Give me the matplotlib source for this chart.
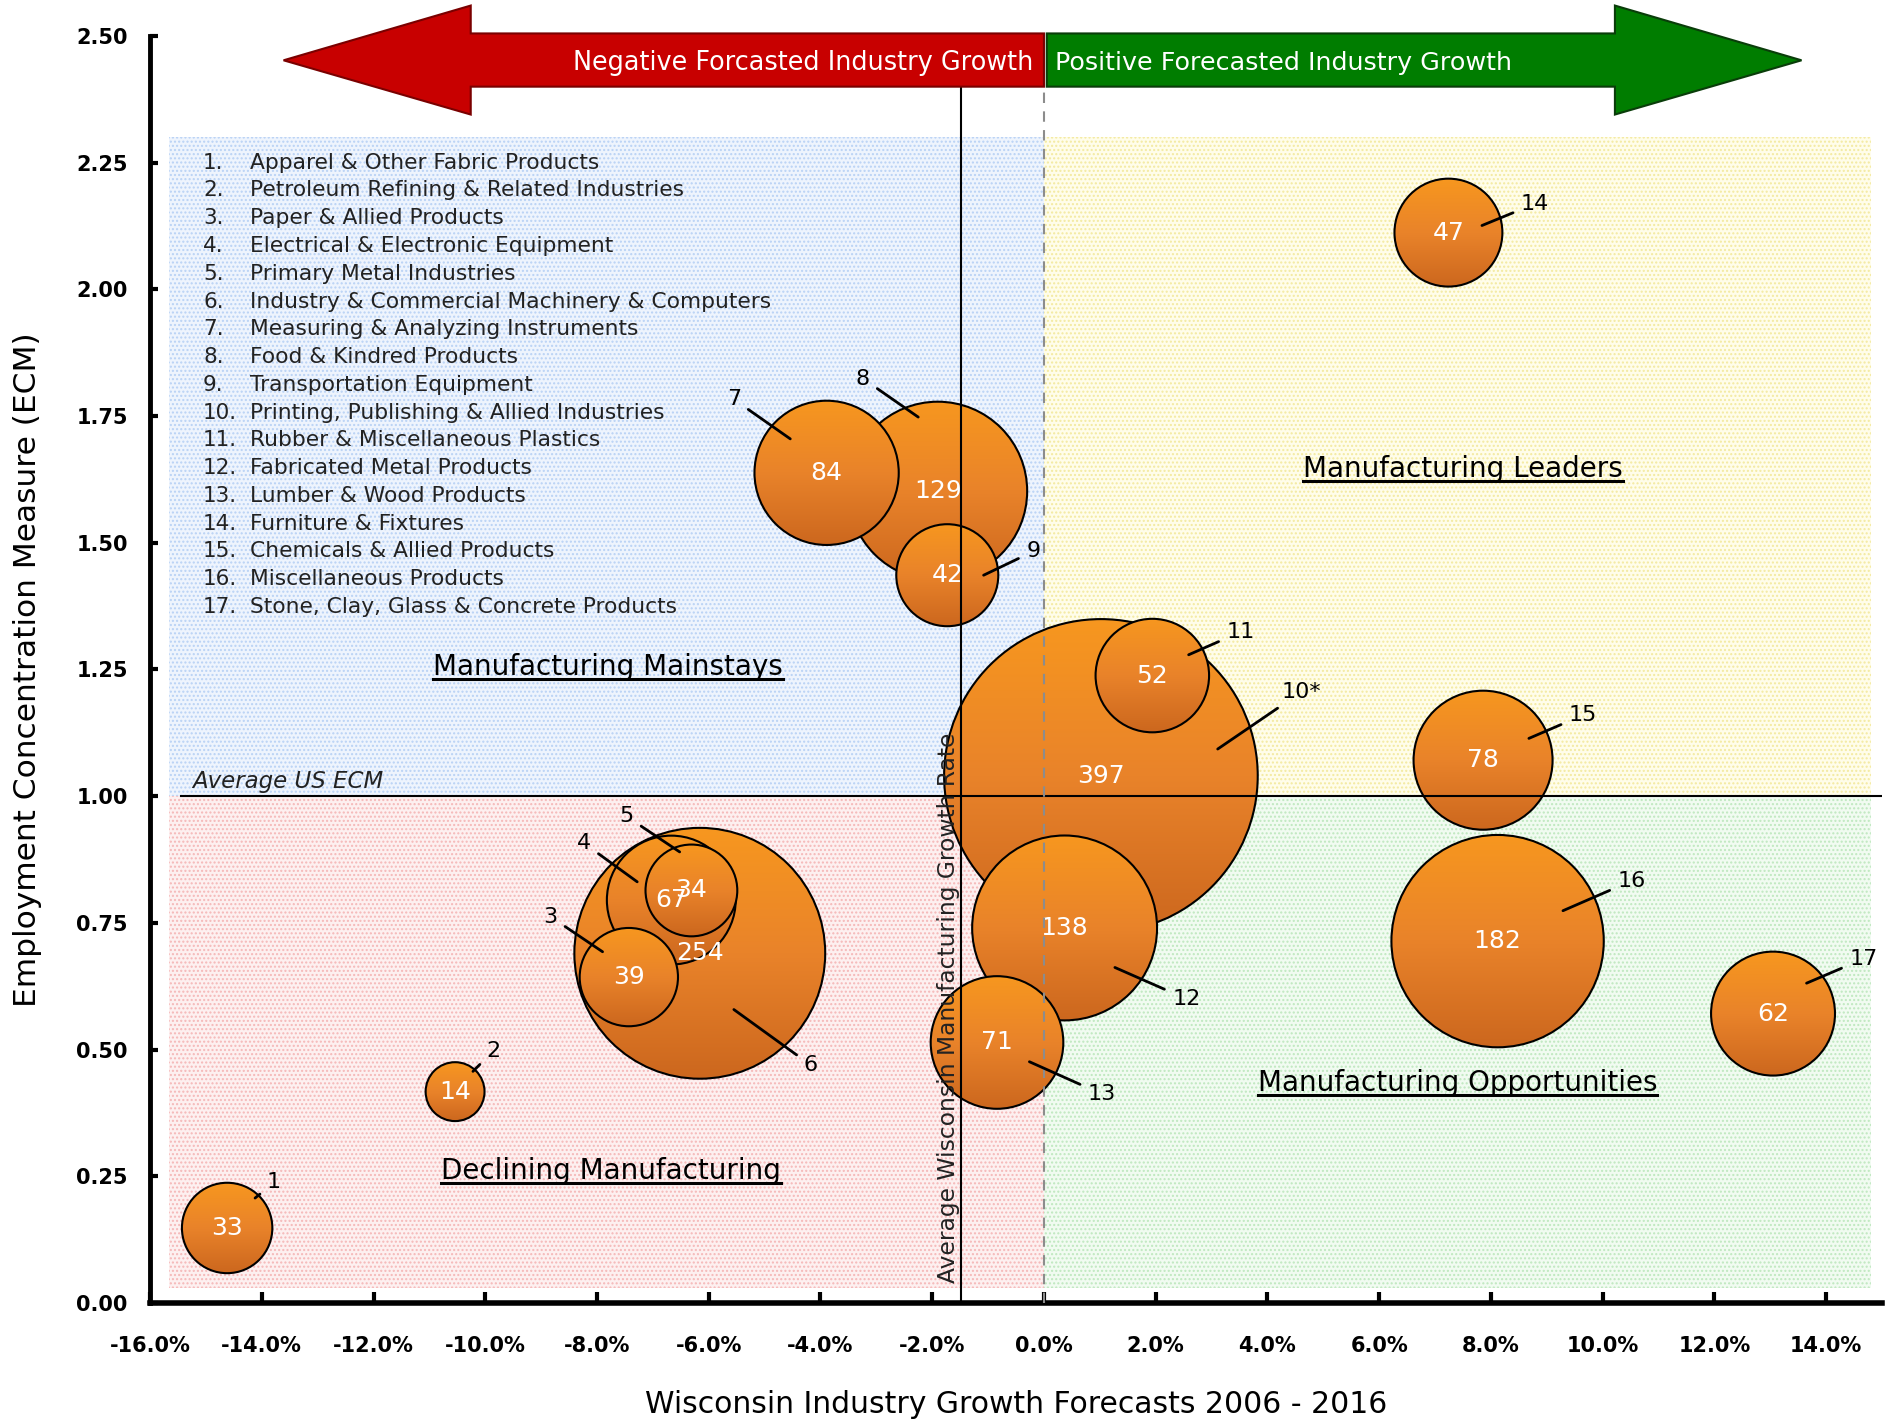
import matplotlib
matplotlib.use("Agg")
import numpy as np
import matplotlib.pyplot as plt
from matplotlib.patches import Rectangle, Polygon, Ellipse

# Wisconsin manufacturing industries: growth forecast vs. ECM, bubble = employment (000s)
ids = ["1", "2", "3", "4", "5", "6", "7", "8", "9", "10*",
       "11", "12", "13", "14", "15", "16", "17"]
industries = [
    "Apparel & Other Fabric Products",
    "Petroleum Refining & Related Industries",
    "Paper & Allied Products",
    "Electrical & Electronic Equipment",
    "Primary Metal Industries",
    "Industry & Commercial Machinery & Computers",
    "Measuring & Analyzing Instruments",
    "Food & Kindred Products",
    "Transportation Equipment",
    "Printing, Publishing & Allied Industries",
    "Rubber & Miscellaneous Plastics",
    "Fabricated Metal Products",
    "Lumber & Wood Products",
    "Furniture & Fixtures",
    "Chemicals & Allied Products",
    "Miscellaneous Products",
    "Stone, Clay, Glass & Concrete Products",
]
growth = [-14.62, -10.54, -7.43, -6.67, -6.31, -6.16, -3.89, -1.90, -1.73, 1.02,
          1.94, 0.37, -0.84, 7.24, 7.86, 8.12, 13.05]
ecm = [0.148, 0.417, 0.643, 0.795, 0.814, 0.690, 1.638, 1.602, 1.436, 1.040,
       1.238, 0.740, 0.514, 2.112, 1.071, 0.714, 0.571]
employment = [33, 14, 39, 67, 34, 254, 84, 129, 42, 397,
              52, 138, 71, 47, 78, 182, 62]

avg_us_ecm = 1.0
avg_wi_growth = -1.49

# callout number positions and where their leader lines end
label_pos = [(-13.78, 0.238), (-9.85, 0.498), (-8.83, 0.762), (-8.23, 0.907),
             (-7.47, 0.960), (-4.17, 0.469), (-5.55, 1.783), (-3.24, 1.824),
             (-0.19, 1.483), (4.60, 1.205), (3.52, 1.324), (2.55, 0.600),
             (1.04, 0.412), (8.79, 2.169), (9.65, 1.160), (10.52, 0.833),
             (14.67, 0.679)]
pointer_pos = [(-14.12, 0.207), (-10.22, 0.457), (-7.90, 0.693), (-7.28, 0.831),
               (-6.52, 0.890), (-5.55, 0.579), (-4.54, 1.705), (-2.25, 1.748),
               (-1.08, 1.436), (3.11, 1.093), (2.59, 1.279), (1.27, 0.662),
               (-0.26, 0.476), (7.84, 2.126), (8.68, 1.114), (9.29, 0.774),
               (13.65, 0.631)]

plt.rcParams["font.family"] = "DejaVu Sans"

fig = plt.figure(figsize=(18.92, 14.22), dpi=100)
ax = fig.add_axes([0.0793, 0.0837, 0.9154, 0.891])
ax.set_xlim(-16, 15)
ax.set_ylim(0, 2.5)

# quadrant backgrounds with a fine dot texture
x0, x1, y0, y1 = -15.66, 14.8, 0.029, 2.30
quads = [
    (x0, avg_us_ecm, 0 - x0, y1 - avg_us_ecm, "#eef4fd", "#b9d2f5"),
    (0, avg_us_ecm, x1, y1 - avg_us_ecm, "#fffdea", "#f3eaa0"),
    (x0, y0, 0 - x0, avg_us_ecm - y0, "#fdf0f0", "#f5b8b8"),
    (0, y0, x1, avg_us_ecm - y0, "#f1fbf1", "#bfe8bf"),
]
for qx, qy, qw, qh, fc, hc in quads:
    ax.add_patch(Rectangle((qx, qy), qw, qh, facecolor=fc, edgecolor="none", zorder=0))
    ax.add_patch(Rectangle((qx, qy), qw, qh, facecolor="none", edgecolor=hc,
                           hatch="....", linewidth=0, zorder=0.5))

# bubble radius in pixels grows with sqrt(employment); convert to data units
p0 = ax.transData.transform((0, 0))
px_x = ax.transData.transform((1, 0))[0] - p0[0]
px_y = ax.transData.transform((0, 1))[1] - p0[1]
grad = np.linspace(0, 1, 256).reshape(-1, 1)
orange = plt.matplotlib.colors.LinearSegmentedColormap.from_list(
    "bubble", ["#f7971f", "#e9832a", "#cc671e"])

order = sorted(range(len(employment)), key=lambda i: -employment[i])
for rank, i in enumerate(order):
    r_px = 7.87 * np.sqrt(employment[i])
    w = 2 * r_px / px_x
    h = 2 * r_px / px_y
    z = 3 + rank * 0.01
    im = ax.imshow(grad, cmap=orange, aspect="auto", origin="upper",
                   extent=(growth[i] - w / 2, growth[i] + w / 2, ecm[i] - h / 2, ecm[i] + h / 2),
                   zorder=z)
    clip = Ellipse((growth[i], ecm[i]), w, h, transform=ax.transData)
    im.set_clip_path(clip)
    ax.add_patch(Ellipse((growth[i], ecm[i]), w, h, facecolor="none",
                         edgecolor="black", linewidth=1.5, zorder=z + 0.005))

ax.set_xlim(-16, 15)
ax.set_ylim(0, 2.5)

# employment values sit above every bubble
for i in range(len(employment)):
    ax.text(growth[i], ecm[i], str(employment[i]), color="white", fontsize=18,
            ha="center", va="center", zorder=4.5)

# reference lines
ax.axhline(avg_us_ecm, xmin=(-15.45 + 16) / 31, xmax=1, color="black", lw=1.5, zorder=5)
ax.plot([avg_wi_growth, avg_wi_growth], [0, 2.40], color="black", lw=1.5, zorder=5)
ax.plot([0, 0], [0, 2.40], color="#8c8c8c", lw=1.5, ls=(0, (5, 4)), zorder=5)
ax.text(-15.25, avg_us_ecm + 0.006, "Average US ECM", fontsize=16.5, style="italic",
        ha="left", va="bottom", color="#222222", zorder=6)
ax.text(avg_wi_growth - 0.22, 0.04, "Average Wisconsin Manufacturing Growth Rate",
        rotation=90, fontsize=16.8, ha="center", va="bottom", color="#222222", zorder=6)

# callouts
for lab, (tx, ty), (px, py) in zip(ids, label_pos, pointer_pos):
    ax.annotate(lab, xy=(px, py), xytext=(tx, ty), fontsize=16, ha="center", va="center",
                arrowprops=dict(arrowstyle="-", color="black", lw=2, shrinkA=4, shrinkB=0),
                zorder=7)

# industry key
for k, name in enumerate(industries):
    yy = 2.250 - k * 0.0548
    ax.text(-15.05, yy, f"{k + 1}.", fontsize=15.5, ha="left", va="center", color="#222222", zorder=2)
    ax.text(-14.21, yy, name, fontsize=15.7, ha="left", va="center", color="#222222", zorder=2)

# quadrant titles
quad_titles = [(-7.8, 1.255, "Manufacturing Mainstays"),
               (7.5, 1.645, "Manufacturing Leaders"),
               (-7.75, 0.26, "Declining Manufacturing"),
               (7.4, 0.435, "Manufacturing Opportunities")]
title_texts = []
for qx, qy, s in quad_titles:
    title_texts.append(ax.text(qx, qy, s, fontsize=20, ha="center", va="center",
                               color="black", zorder=2))

# direction arrows above the plot
left_arrow = [(0, 2.505), (-10.26, 2.505), (-10.26, 2.56), (-13.61, 2.452),
              (-10.26, 2.345), (-10.26, 2.40), (0, 2.40)]
right_arrow = [(0.05, 2.505), (10.22, 2.505), (10.22, 2.56), (13.56, 2.452),
               (10.22, 2.345), (10.22, 2.40), (0.05, 2.40)]
ax.add_patch(Polygon(left_arrow, closed=True, facecolor="#c80000", edgecolor="#7a0000",
                     lw=1.5, clip_on=False, zorder=8))
ax.add_patch(Polygon(right_arrow, closed=True, facecolor="#007d00", edgecolor="#0a3d0a",
                     lw=1.5, clip_on=False, zorder=8))
ax.text(-0.2, 2.446, "Negative Forcasted Industry Growth", color="white", fontsize=18.4,
        ha="right", va="center", zorder=9, clip_on=False)
ax.text(0.2, 2.446, "Positive Forecasted Industry Growth", color="white", fontsize=18.3,
        ha="left", va="center", zorder=9, clip_on=False)

# axes styling
for side in ["top", "right"]:
    ax.spines[side].set_visible(False)
ax.spines["left"].set_linewidth(3.5)
ax.spines["bottom"].set_linewidth(4)
ax.set_xticks(range(-16, 15, 2))
ax.set_xticklabels([f"{v:.1f}%" for v in range(-16, 15, 2)], fontweight="bold")
ax.set_yticks([i * 0.25 for i in range(11)])
ax.set_yticklabels([f"{i * 0.25:.2f}" for i in range(11)], fontweight="bold")
ax.tick_params(axis="x", direction="in", length=8, width=3, pad=24, labelsize=15)
ax.tick_params(axis="y", direction="in", length=6, width=3, pad=16, labelsize=15)
ax.set_xlabel("Wisconsin Industry Growth Forecasts 2006 - 2016", fontsize=21.5, labelpad=24)
ax.set_ylabel("Employment Concentration Measure (ECM)", fontsize=22.5, labelpad=25)

# underline the quadrant titles
fig.canvas.draw()
inv = ax.transData.inverted()
for t in title_texts:
    bb = t.get_window_extent()
    (ux0, uy), (ux1, _) = inv.transform([(bb.x0, bb.y0 + 2), (bb.x1, bb.y0 + 2)])
    ax.plot([ux0, ux1], [uy, uy], color="black", lw=2.2, zorder=2)

fig.savefig("out.png", dpi=100)
